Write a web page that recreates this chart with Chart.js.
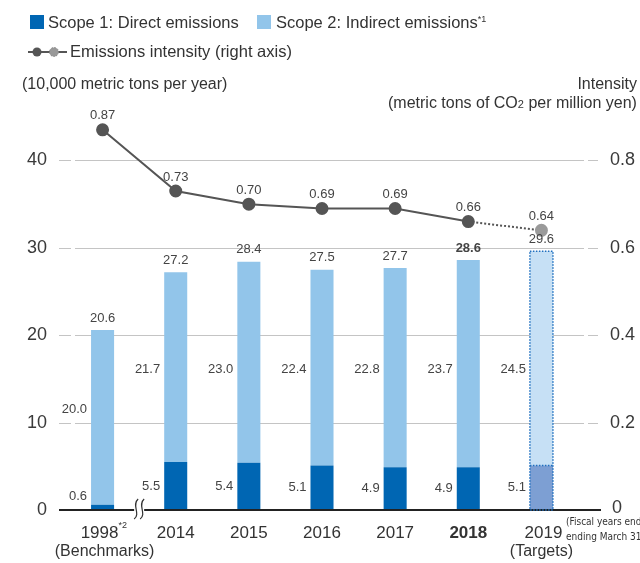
<!DOCTYPE html>
<html>
<head>
<meta charset="utf-8">
<script src="https://cdn.jsdelivr.net/npm/chart.js@4.4.0/dist/chart.umd.min.js"></script>
<style>
  html, body { margin: 0; padding: 0; background: #fff; overflow: hidden; }
  #wrap { position: relative; width: 640px; height: 563px; font-family: 'Liberation Sans', Arial, sans-serif; color: #333; }
  #chart { position: absolute; left: 0; top: 0; }
  .t { position: absolute; white-space: nowrap; font-size: 16px; }
  .box { position: absolute; width: 14px; height: 14px; }
</style>
</head>
<body>
<div id="wrap">
  <canvas id="chart" width="640" height="563"></canvas>
  <div class="box" style="left:30px;top:15px;background:#0066b3"></div>
  <div class="t" style="left:48px;top:13px;font-size:16.5px">Scope 1: Direct emissions</div>
  <div class="box" style="left:257px;top:15px;background:#92c5ea"></div>
  <div class="t" style="left:276px;top:13px;font-size:16.5px">Scope 2: Indirect emissions<sup style="font-size:9px">*1</sup></div>
  <svg style="position:absolute;left:27px;top:44px" width="44" height="16">
    <line x1="1" y1="8" x2="40" y2="8" stroke="#555" stroke-width="2"/>
    <circle cx="10" cy="8" r="4.5" fill="#555"/>
    <circle cx="27" cy="8" r="4.5" fill="#999" stroke="#888" stroke-dasharray="1.5 1.5"/>
  </svg>
  <div class="t" style="left:70px;top:42px;font-size:16.5px">Emissions intensity (right axis)</div>
  <div class="t" style="left:22px;top:75px">(10,000 metric tons per year)</div>
  <div class="t" style="right:3px;top:75px">Intensity</div>
  <div class="t" style="left:388px;top:94px">(metric tons of CO<span style="font-size:11px">2</span> per million yen)</div>
</div>
<script>
// === EMISSIONS CHART ===
const years = ['1998', '2014', '2015', '2016', '2017', '2018', '2019'];
const scope1 = [0.6, 5.5, 5.4, 5.1, 4.9, 4.9, 5.1];
const scope2 = [20.0, 21.7, 23.0, 22.4, 22.8, 23.7, 24.5];
const totals = [20.6, 27.2, 28.4, 27.5, 27.7, 28.6, 29.6];
const intensity = [0.87, 0.73, 0.70, 0.69, 0.69, 0.66, 0.64];
const leftTicks = [0, 10, 20, 30, 40];
const rightTicks = ['0', '0.2', '0.4', '0.6', '0.8'];

const COLORS = { s1: '#0066b3', s2: '#92c5ea', s1t: '#7d9fd3', s2t: '#c6e0f5', line: '#555555', text: '#3a3a3a' };
const FONT = "'Liberation Sans', Arial, sans-serif";

const overlay = {
    id: 'overlay',
    beforeDatasetsDraw(chart) {
        const c = chart.ctx, y = chart.scales.y;
        c.save();
        c.strokeStyle = '#c4c4c4'; c.lineWidth = 1;
        leftTicks.forEach((v, i) => {
            const py = Math.round(y.getPixelForValue(v)) + 0.5;
            if (v > 0) {
                c.beginPath();
                c.moveTo(59, py); c.lineTo(71, py);
                c.moveTo(75, py); c.lineTo(584, py);
                c.moveTo(588, py); c.lineTo(598, py);
                c.stroke();
            }
            c.fillStyle = COLORS.text; c.font = '18px ' + FONT; c.textBaseline = 'middle';
            c.textAlign = 'right'; c.fillText(String(v), 47, py);
            c.textAlign = 'left'; c.fillText(rightTicks[i], v === 0 ? 612 : 610, v === 0 ? py - 2 : py);
        });
        c.restore();
    },
    afterDatasetsDraw(chart) {
        const c = chart.ctx, x = chart.scales.x, y = chart.scales.y;
        const m1 = chart.getDatasetMeta(0).data, m2 = chart.getDatasetMeta(1).data, ml = chart.getDatasetMeta(2).data;
        c.save();
        // zero line
        const y0 = y.getPixelForValue(0);
        c.strokeStyle = '#222'; c.lineWidth = 2;
        c.beginPath(); c.moveTo(59, y0); c.lineTo(601, y0); c.stroke();
        // axis break
        const bx = (x.getPixelForValue(0) + x.getPixelForValue(1)) / 2;
        c.fillStyle = '#fff'; c.fillRect(bx - 5, y0 - 3, 10, 6);
        c.strokeStyle = '#333'; c.lineWidth = 1.2;
        [-3, 3].forEach(d => {
            c.beginPath();
            c.moveTo(bx + d + 2, y0 - 11);
            c.bezierCurveTo(bx + d - 5, y0 - 5, bx + d + 5, y0 + 4, bx + d - 2, y0 + 9);
            c.stroke();
        });
        // dotted border for target year
        const last = years.length - 1, b1 = m1[last], b2 = m2[last];
        c.strokeStyle = '#1f6fbf'; c.lineWidth = 1.5; c.setLineDash([1.5, 1.5]);
        const l = b2.x - b2.width / 2, r = b2.x + b2.width / 2;
        c.strokeRect(l, b2.y, r - l, y0 - b2.y);
        c.beginPath(); c.moveTo(l, b1.y); c.lineTo(r, b1.y); c.stroke();
        c.setLineDash([]);
        // bar labels
        c.fillStyle = '#444'; c.font = '13px ' + FONT; c.textBaseline = 'middle';
        years.forEach((yr, i) => {
            const a = m1[i], b = m2[i], left = a.x - a.width / 2 - 4;
            c.textAlign = 'right';
            const h1 = a.base - a.y;
            c.fillText(scope1[i].toFixed(1), left, h1 < 20 ? a.y - 8 : (a.y + a.base) / 2);
            c.fillText(scope2[i].toFixed(1), left, i === 0 ? (b.y + b.base) / 2 - 8 : y.getPixelForValue(16.1));
            c.textAlign = 'center';
            c.font = (i === 5 ? 'bold ' : '') + '13px ' + FONT;
            c.fillText(totals[i].toFixed(1), b.x, b.y - 12);
            c.font = '13px ' + FONT;
            c.fillText(intensity[i].toFixed(2), ml[i].x, ml[i].y - 14);
        });
        // x labels
        c.fillStyle = '#333'; c.textAlign = 'center';
        years.forEach((yr, i) => {
            const px = x.getPixelForValue(i);
            c.font = (i === 5 ? 'bold ' : '') + '17px ' + FONT;
            if (i === 0) {
                c.fillText(yr, px - 3, 533);
                c.font = '9px ' + FONT; c.textAlign = 'left';
                c.fillText('*2', px + 16, 526);
                c.textAlign = 'center'; c.font = '16px ' + FONT;
                c.fillText('(Benchmarks)', px + 2, 552);
            } else if (i === last) {
                c.fillText(yr, px + 2, 533);
                c.font = '16px ' + FONT;
                c.fillText('(Targets)', px, 552);
            } else {
                c.fillText(yr, px, 533);
            }
        });
        c.font = "10px 'Liberation Sans Narrow', 'DejaVu Sans Condensed', sans-serif";
        c.textAlign = 'left';
        c.fillText('(Fiscal years ended', 566, 522);
        c.fillText('ending March 31)', 566, 537);
        c.restore();
    }
};

const last = years.length - 1;
new Chart(document.getElementById('chart'), {
    data: {
        labels: years,
        datasets: [
            { type: 'bar', label: 'Scope 1: Direct emissions', data: scope1, order: 1, stack: 's',
              backgroundColor: years.map((_, i) => i === last ? COLORS.s1t : COLORS.s1), barPercentage: 0.315, categoryPercentage: 1 },
            { type: 'bar', label: 'Scope 2: Indirect emissions', data: scope2, order: 1, stack: 's',
              backgroundColor: years.map((_, i) => i === last ? COLORS.s2t : COLORS.s2), barPercentage: 0.315, categoryPercentage: 1 },
            { type: 'line', label: 'Emissions intensity (right axis)', data: intensity, yAxisID: 'y1', order: 0,
              borderColor: COLORS.line, borderWidth: 2, pointRadius: 5.5, pointHoverRadius: 5.5,
              pointBackgroundColor: years.map((_, i) => i === last ? '#9a9a9a' : COLORS.line),
              pointBorderColor: years.map((_, i) => i === last ? '#9a9a9a' : COLORS.line),
              segment: { borderDash: ctx => ctx.p1DataIndex === last ? [2, 2] : undefined } }
        ]
    },
    options: {
        responsive: false, animation: false,
        layout: { padding: { left: 66, right: 62, top: 108, bottom: 53 } },
        plugins: { legend: { display: false }, tooltip: { enabled: false } },
        scales: {
            x: { display: false, stacked: true },
            y: { display: false, stacked: true, min: 0, max: 46 },
            y1: { display: false, min: 0, max: 0.92 }
        }
    },
    plugins: [overlay]
});
</script>
</body>
</html>
